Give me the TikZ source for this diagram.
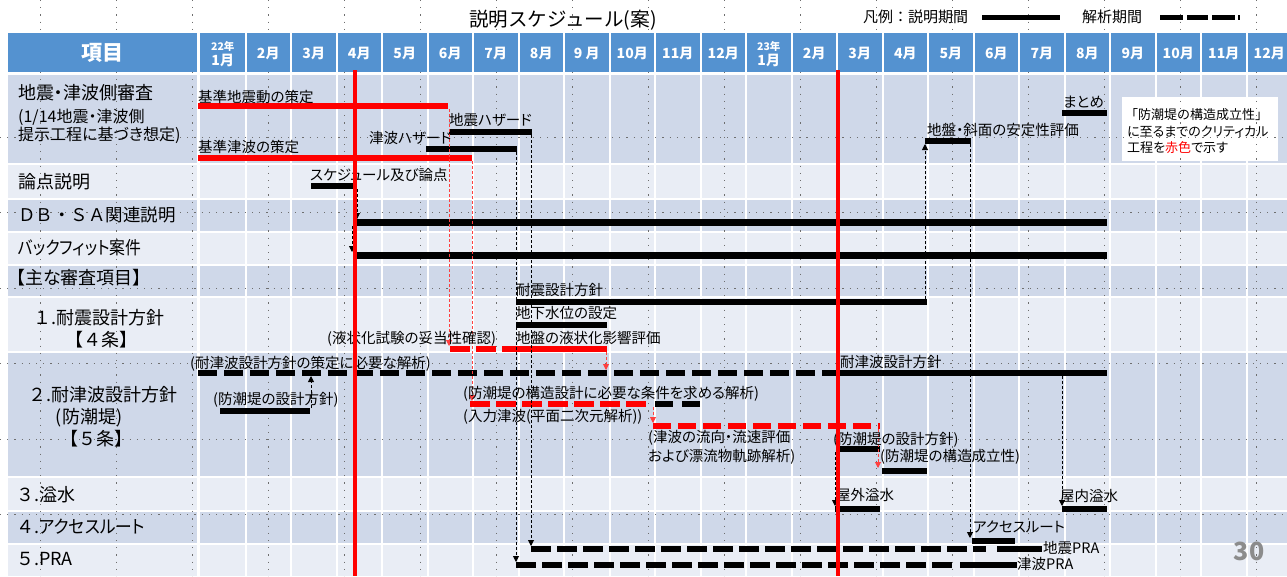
\documentclass[tikz,border=0pt]{standalone}
\usepackage{fontspec}
\setmainfont{Noto Sans CJK JP}[RawFeature=+palt]
\newfontfamily\fwfont{Noto Sans CJK JP}
\usetikzlibrary{arrows.meta}
\definecolor{hdrblue}{RGB}{84,146,208}
\definecolor{rowdark}{RGB}{207,216,233}
\definecolor{rowlight}{RGB}{233,237,245}
\definecolor{dotgray}{RGB}{110,110,110}
\tikzset{
  lbl/.style={anchor=west, inner sep=0pt, font=\fontsize{14.5}{16}\selectfont},
  rowlbl/.style={anchor=west, inner sep=0pt, font=\fontsize{18}{20}\selectfont},
  mon/.style={text=white, inner sep=0pt, font=\bfseries\fontsize{14}{15}\selectfont, align=center},
  blkbar/.style={line width=6pt, black},
  widebar/.style={line width=7pt, black},
  redbar/.style={line width=6pt, red},
  blkdash/.style={blkbar, dash pattern=on 19pt off 7pt},
  reddash/.style={redbar, dash pattern=on 20pt off 6pt},
  conn/.style={line width=0.9pt, dash pattern=on 3pt off 2pt, -{Triangle[length=6pt,width=6pt]}},
  rconn/.style={conn, draw=red!75},
  gridline/.style={dotgray, line width=1pt, dash pattern=on 1.2pt off 6pt},
  redline/.style={red, line width=4pt},
}
\begin{document}
\begin{tikzpicture}[x=1pt,y=-1pt]
\useasboundingbox (0,0) rectangle (1287,576);
\fill[white] (0,0) rectangle (1287,576);
% body rows
\foreach \a/\b/\c in {75/163/rowdark,165/198/rowlight,200/231/rowdark,233/264/rowlight,266/296/rowdark,298/351/rowlight,353/476/rowdark,478/510/rowlight,512/543/rowdark,545/576/rowlight}
  \fill[\c] (8,\a) rectangle (1287,\b);
% header
\fill[hdrblue] (8,33) rectangle (1287,72);
% white column separators
\fill[white] (196.5,33) rectangle (199.5,576);
\foreach \k in {1,...,23} \draw[white, line width=2pt] ({200+45.5*\k},33) -- ({200+45.5*\k},576);
% legend box (critical path note)
\fill[white] (1122,97) rectangle (1278,161);
% dotted guides
\foreach \k in {0,...,16} {
  \draw[gridline] ({40+76.06*\k},0) -- ({40+76.06*\k},33);
  \draw[gridline] ({40+76.06*\k},72) -- ({40+76.06*\k},576);
}
\foreach \yy in {137,212.5,288,363.5,439,514.5} \draw[gridline] (0,\yy) -- (1287,\yy);

% title and legend
\node[inner sep=0pt, font=\fwfont\fontsize{19.5}{21}\selectfont] (title) at (563,20) {説明スケジュール(案)};
\node[anchor=west, inner sep=0pt, font=\fwfont\fontsize{15}{17}\selectfont] (lg1) at (863,17) {凡例：説明期間};
\coordinate (lgA) at (982,17); \coordinate (lgB) at (1060,17);
\draw[line width=5pt] (lgA) -- (lgB);
\node[anchor=west, inner sep=0pt, font=\fwfont\fontsize{15}{17}\selectfont] (lg2) at (1082,17) {解析期間};
\fill (1160,14.5) rectangle (1183,19.5);
\fill (1187,14.5) rectangle (1208,19.5);
\fill (1212,14.5) rectangle (1235,19.5);
\fill (1238,14.5) rectangle (1240,19.5);

% header labels
\node[mon, font=\bfseries\fontsize{21}{23}\selectfont] (hd) at (102,53) {項目};
\node[mon, font=\bfseries\fontsize{10.5}{11}\selectfont] (m0a) at (222.75,46) {22年};
\node[mon] (m0b) at (222.75,60) {1月};
\node[mon, font=\bfseries\fontsize{10.5}{11}\selectfont] (m12a) at ({200+45.5*12+22.75},46) {23年};
\node[mon] (m12b) at ({200+45.5*12+22.75},60) {1月};
\foreach \k/\t in {1/2月,2/3月,3/4月,4/5月,5/6月,6/7月,7/8月,8/9 月,9/10月,10/11月,11/12月,13/2月,14/3月,15/4月,16/5月,17/6月,18/7月,19/8月,20/9月,21/10月,22/11月,23/12月}
  \node[mon] (m\k) at ({200+45.5*\k+22.75},53) {\t};

% row labels
\node[rowlbl] (r1a) at (18,93) {地震・津波側審査};
\node[rowlbl, font=\fontsize{16}{18}\selectfont] (r1b) at (18,117) {(1/14地震・津波側};
\node[rowlbl, font=\fontsize{16}{18}\selectfont] (r1c) at (18,135) {提示工程に基づき想定)};
\node[rowlbl] (r2) at (18,182) {論点説明};
\node[rowlbl, font=\fwfont\fontsize{17.5}{19}\selectfont] (r3) at (18,215) {ＤＢ・ＳＡ関連説明};
\node[rowlbl] (r4) at (18,248) {\scalebox{0.88}[1]{バックフィット案件}};
\node[rowlbl] (r5) at (16,278) {【主な審査項目】};
\node[rowlbl] (r6a) at (33,318) {{\fwfont １}.耐震設計方針};
\node[rowlbl, anchor=center] (r6b) at (101,340) {{\fwfont 【４条】}};
\node[rowlbl] (r7a) at (28,395) {{\fwfont ２}.耐津波設計方針};
\node[rowlbl, anchor=center] (r7b) at (89,418) {(防潮堤)};
\node[rowlbl, anchor=center] (r7c) at (96,439) {{\fwfont 【５条】}};
\node[rowlbl] (r8) at (16,495) {{\fwfont ３}.溢水};
\node[rowlbl] (r9) at (16,527) {{\fwfont ４}.\scalebox{0.93}[1]{アクセスルート}};
\node[rowlbl] (r10) at (16,559) {{\fwfont ５}.PRA};

% bar end coordinates
\coordinate (kj0) at (198,106); \coordinate (kj1) at (448,106);
\coordinate (kt0) at (198,158); \coordinate (kt1) at (472,158);
\coordinate (jh0) at (449,132); \coordinate (jh1) at (532,132);
\coordinate (th0) at (426,149); \coordinate (th1) at (517,149);
\coordinate (mt0) at (1062,113); \coordinate (mt1) at (1107,113);
\coordinate (js0) at (925,141); \coordinate (js1) at (971,141);
\coordinate (sc0) at (311,186); \coordinate (sc1) at (355,186);
\coordinate (db0) at (355,222); \coordinate (db1) at (1107,222);
\coordinate (bf0) at (355,255); \coordinate (bf1) at (1107,255);
\coordinate (ts0) at (516,302); \coordinate (ts1) at (927,302);
\coordinate (gw0) at (516,325); \coordinate (gw1) at (607,325);
\coordinate (lq0) at (450,349); \coordinate (lqm) at (515,349); \coordinate (lq1) at (607,349);
\coordinate (ta0) at (198,373); \coordinate (ta1) at (838,373); \coordinate (tb1) at (1107,373);
\coordinate (bd0) at (220,411); \coordinate (bd1) at (310,411);
\coordinate (rs0) at (470,404); \coordinate (rs1) at (650,404);
\coordinate (bx0) at (655,404); \coordinate (bx1) at (700,404);
\coordinate (rn0) at (653,426); \coordinate (rn1) at (880,426);
\coordinate (bp0) at (838,449); \coordinate (bp1) at (880,449);
\coordinate (ks0) at (882,471); \coordinate (ks1) at (927,471);
\coordinate (og0) at (835,509); \coordinate (og1) at (880,509);
\coordinate (ig0) at (1062,509); \coordinate (ig1) at (1107,509);
\coordinate (ac0) at (972,541); \coordinate (ac1) at (1015,541);
\coordinate (jp0) at (531,549); \coordinate (jp1) at (986,549);
\coordinate (jq0) at (997,549); \coordinate (jq1) at (1042,549);
\coordinate (tp0) at (516,565); \coordinate (tp1) at (955,565);
\coordinate (tq0) at (960,565); \coordinate (tq1) at (1017,565);

% bars
\draw[redbar] (kj0) -- (kj1);
\draw[redbar] (kt0) -- (kt1);
\draw[blkbar] (jh0) -- (jh1);
\draw[blkbar] (th0) -- (th1);
\draw[blkbar] (mt0) -- (mt1);
\draw[blkbar] (js0) -- (js1);
\draw[blkbar] (sc0) -- (sc1);
\draw[widebar] (db0) -- (db1);
\draw[widebar] (bf0) -- (bf1);
\draw[blkbar] (ts0) -- (ts1);
\draw[blkbar] (gw0) -- (gw1);
\draw[reddash] (lq0) -- (lqm);
\draw[redbar] (502,349) -- (lq1);
\draw[blkdash] (ta0) -- (ta1);
\draw[blkbar] (ta1) -- (tb1);
\draw[blkbar] (bd0) -- (bd1);
\draw[reddash] (rs0) -- (rs1);
\draw[blkdash, dash pattern=on 18pt off 9pt] (bx0) -- (bx1);
\draw[reddash, dash pattern=on 18pt off 7pt] (rn0) -- (rn1);
\draw[blkbar] (bp0) -- (bp1);
\draw[blkbar] (ks0) -- (ks1);
\draw[blkbar] (og0) -- (og1);
\draw[blkbar] (ig0) -- (ig1);
\draw[blkbar] (ac0) -- (ac1);
\draw[blkdash, dash pattern=on 20pt off 6pt] (jp0) -- (jp1);
\draw[blkbar] (jq0) -- (jq1);
\draw[blkdash, dash pattern=on 20pt off 6pt] (tp0) -- (tp1);
\draw[blkbar] (tq0) -- (tq1);

% connectors
\coordinate (c1s) at (531,135); \coordinate (c1e) at (531,546);
\coordinate (c2s) at (516,152); \coordinate (c2e) at (516,562);
\coordinate (c3s) at (925,299); \coordinate (c3e) at (925,144);
\coordinate (c4s) at (970,144); \coordinate (c4e) at (970,538);
\coordinate (c5s) at (1062,376); \coordinate (c5e) at (1062,506);
\coordinate (c6s) at (835,452); \coordinate (c6e) at (835,506);
\coordinate (c7s) at (357,189); \coordinate (c7e) at (357,219);
\coordinate (c8s) at (352,226); \coordinate (c8e) at (352,252);
\coordinate (c9s) at (311,408); \coordinate (c9e) at (311,376);
\draw[conn] (c1s) -- (c1e);
\draw[conn] (c2s) -- (c2e);
\draw[conn] (c3s) -- (c3e);
\draw[conn] (c4s) -- (c4e);
\draw[conn] (c5s) -- (c5e);
\draw[conn] (c6s) -- (c6e);
\draw[conn] (c7s) -- (c7e);
\draw[conn] (c8s) -- (c8e);
\draw[conn] (c9s) -- (c9e);
\coordinate (d1s) at (449,109); \coordinate (d1e) at (449,346);
\coordinate (d2s) at (472,161); \coordinate (d2e) at (472,401);
\coordinate (d3s) at (606,352); \coordinate (d3e) at (606,370);
\coordinate (d4s) at (653,407); \coordinate (d4e) at (653,423);
\coordinate (d5s) at (878,429); \coordinate (d5e) at (878,468);
\draw[rconn] (d1s) -- (d1e);
\draw[rconn] (d2s) -- (d2e);
\draw[rconn] (d3s) -- (d3e);
\draw[rconn] (d4s) -- (d4e);
\draw[rconn] (d5s) -- (d5e);

% chart labels
\node[lbl] (t1) at (198,97) {基準地震動の策定};
\node[lbl] (t2) at (198,147) {基準津波の策定};
\node[lbl] (t3) at (449,120) {地震ハザード};
\node[lbl] (t4) at (369,138) {津波ハザード};
\node[lbl] (t5) at (1063,102) {まとめ};
\node[lbl] (t6) at (927,130) {地盤・斜面の安定性評価};
\node[lbl] (t7) at (310,175) {スケジュール及び論点};
\node[lbl] (t8) at (516,290) {耐震設計方針};
\node[lbl] (t9) at (516,313) {地下水位の設定};
\node[lbl] (t10) at (516,338) {地盤の液状化影響評価};
\node[lbl] (t11) at (327,339) {(液状化試験の妥当性確認)};
\node[lbl] (t12) at (190,364) {(耐津波設計方針の策定に必要な解析)};
\node[lbl] (t13) at (840,362) {耐津波設計方針};
\node[lbl] (t14) at (213,400) {(防潮堤の設計方針)};
\node[lbl] (t15) at (463,394) {(防潮堤の構造設計に必要な条件を求める解析)};
\node[lbl] (t16) at (463,417) {(入力津波(平面二次元解析))};
\node[lbl] (t17) at (648,438) {(津波の流向・流速評価};
\node[lbl] (t18) at (648,457) {および漂流物軌跡解析)};
\node[lbl] (t19) at (833,440) {(防潮堤の設計方針)};
\node[lbl] (t20) at (880,457) {(防潮堤の構造成立性)};
\node[lbl] (t21) at (836,495) {屋外溢水};
\node[lbl] (t22) at (1060,496) {屋内溢水};
\node[lbl] (t23) at (973,527) {アクセスルート};
\node[lbl] (t24) at (1043,548) {地震PRA};
\node[lbl] (t25) at (1017,564) {津波PRA};

% note box text
\node[lbl, font=\fwfont\fontsize{13}{14}\selectfont] (n1) at (1125,115) {「防潮堤の構造成立性」};
\node[lbl, font=\fontsize{13}{14}\selectfont] (n2) at (1127,132) {に至るまでのクリティカル};
\node[lbl, font=\fontsize{13}{14}\selectfont] (n3) at (1127,148) {工程を\textcolor{red}{赤色}で示す};

% red milestone lines
\coordinate (rl1a) at (355,70); \coordinate (rl1b) at (355,576);
\coordinate (rl2a) at (838,70); \coordinate (rl2b) at (838,576);
\draw[redline] (rl1a) -- (rl1b);
\draw[redline] (rl2a) -- (rl2b);

% page number
\node[inner sep=0pt, text=black!45, font=\bfseries\fontsize{25}{27}\selectfont] (pg) at (1249,551) {30};
\end{tikzpicture}
\end{document}
